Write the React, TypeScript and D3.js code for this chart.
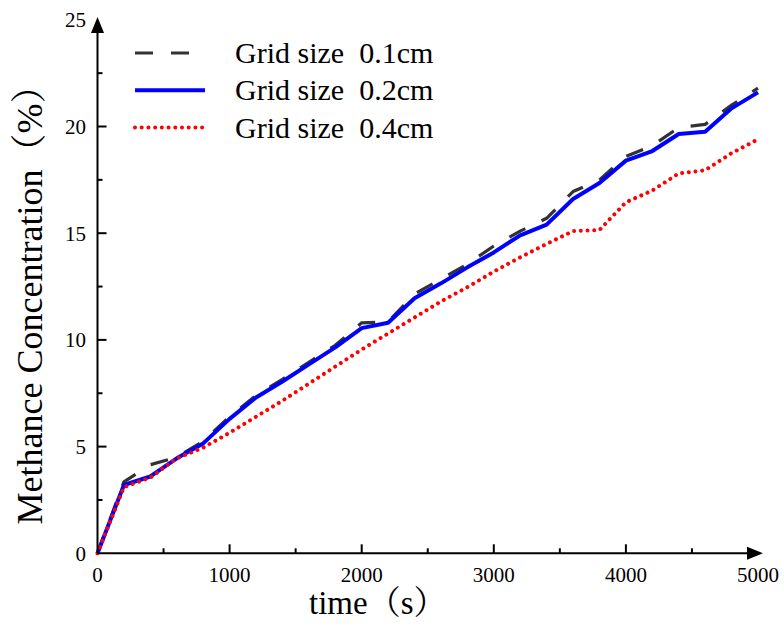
import React from "react";
import * as d3 from "d3";

const times = [0, 200, 400, 600, 800, 1000, 1200, 1400, 1600, 1800, 2000, 2200, 2400, 2600, 2800, 3000, 3200, 3400, 3600, 3800, 4000, 4200, 4400, 4600, 4800, 5000];
const grid01 = [0, 3.35, 4.15, 4.5, 5.25, 6.4, 7.4, 8.15, 8.95, 9.75, 10.8, 10.85, 12.15, 12.85, 13.55, 14.4, 15.1, 15.7, 16.95, 17.5, 18.6, 19.1, 19.95, 20.1, 21.0, 21.8];
const grid02 = [0, 3.2, 3.6, 4.45, 5.15, 6.3, 7.3, 8.05, 8.85, 9.65, 10.55, 10.8, 11.95, 12.65, 13.4, 14.1, 14.9, 15.4, 16.6, 17.35, 18.4, 18.85, 19.65, 19.75, 20.85, 21.6];
const grid04 = [0, 3.1, 3.55, 4.45, 4.95, 5.65, 6.4, 7.15, 7.95, 8.75, 9.55, 10.3, 11.05, 11.8, 12.47, 13.2, 13.87, 14.5, 15.1, 15.15, 16.45, 17.0, 17.8, 17.95, 18.75, 19.4];

const xTicks = [0, 1000, 2000, 3000, 4000, 5000];
const xMinor = [500, 1500, 2500, 3500, 4500];
const yTicks = [0, 5, 10, 15, 20, 25];
const yMinor = [2.5, 7.5, 12.5, 17.5, 22.5];

const seriesNames = ["Grid size  0.1cm", "Grid size  0.2cm", "Grid size  0.4cm"];

const FONT = "'Liberation Serif', 'Times New Roman', 'Noto Serif CJK SC', 'Noto Sans CJK SC', serif";

export default function App() {
  const W = 784, H = 628;
  const x = d3.scaleLinear().domain([0, 5000]).range([97.5, 758]);
  const y = d3.scaleLinear().domain([0, 25]).range([553.3, 19.8]);
  const line = d3.line<number>().x((_, i) => x(times[i])).y((d) => y(d));

  const styles = [
    { data: grid01, stroke: "#333333", width: 3.2, dash: "18 18", cap: "butt" },
    { data: grid02, stroke: "#0000ff", width: 4, dash: undefined, cap: "butt" },
    { data: grid04, stroke: "#ff0000", width: 4, dash: "0.01 6.7", cap: "round" },
  ];

  const x0 = x(0), y0 = y(0);
  return (
    <div style={{ position: "fixed", left: 0, top: 0 }}>
      <svg width={W} height={H} style={{ display: "block", background: "#fff" }} fontFamily={FONT}>
        <rect width={W} height={H} fill="#fff" />
        {styles.map((s, i) => (
          <path key={i} d={line(s.data) || ""} fill="none" stroke={s.stroke} strokeWidth={s.width}
            strokeDasharray={s.dash} strokeLinecap={s.cap as any} strokeLinejoin="round" />
        ))}
        {/* axes */}
        <line x1={x0} y1={y0} x2={x0} y2={30} stroke="#000" strokeWidth={2} />
        <path d={`M${x0},17 L${x0 - 6.5},33 L${x0 + 6.5},33 Z`} fill="#000" />
        <line x1={x0} y1={y0} x2={750} y2={y0} stroke="#000" strokeWidth={2} />
        <path d={`M763,${y0} L747,${y0 - 6.5} L747,${y0 + 6.5} Z`} fill="#000" />
        {xTicks.map((t) => (
          <g key={"xt" + t}>
            {t > 0 && t < 5000 && <line x1={x(t)} x2={x(t)} y1={y0} y2={y0 - 9} stroke="#000" strokeWidth={2} />}
            <text x={x(t)} y={582} textAnchor="middle" fontSize={21}>{t}</text>
          </g>
        ))}
        {xMinor.map((t) => (
          <line key={"xm" + t} x1={x(t)} x2={x(t)} y1={y0} y2={y0 - 5} stroke="#000" strokeWidth={2} />
        ))}
        {yTicks.map((t) => (
          <g key={"yt" + t}>
            {t > 0 && t < 25 && <line x1={x0} x2={x0 + 9} y1={y(t)} y2={y(t)} stroke="#000" strokeWidth={2} />}
            <text x={86} y={y(t)} dy="0.35em" textAnchor="end" fontSize={21}>{t}</text>
          </g>
        ))}
        {yMinor.map((t) => (
          <line key={"ym" + t} x1={x0} x2={x0 + 5} y1={y(t)} y2={y(t)} stroke="#000" strokeWidth={2} />
        ))}
        {/* titles */}
        <text x={309} y={614} textAnchor="start" fontSize={33}>time（s）</text>
        <text transform="translate(42,296) rotate(-90)" textAnchor="middle" fontSize={36}>Methance Concentration（%）</text>
        {/* legend */}
        {styles.map((s, i) => (
          <g key={"lg" + i}>
            <line x1={135} x2={205} y1={53 + i * 37.3} y2={53 + i * 37.3} stroke={s.stroke} strokeWidth={s.width}
              strokeDasharray={s.dash} strokeLinecap={s.cap as any} />
            <text x={235} y={63 + i * 37.3} fontSize={30} style={{ whiteSpace: "pre" }}>{seriesNames[i]}</text>
          </g>
        ))}
      </svg>
    </div>
  );
}
